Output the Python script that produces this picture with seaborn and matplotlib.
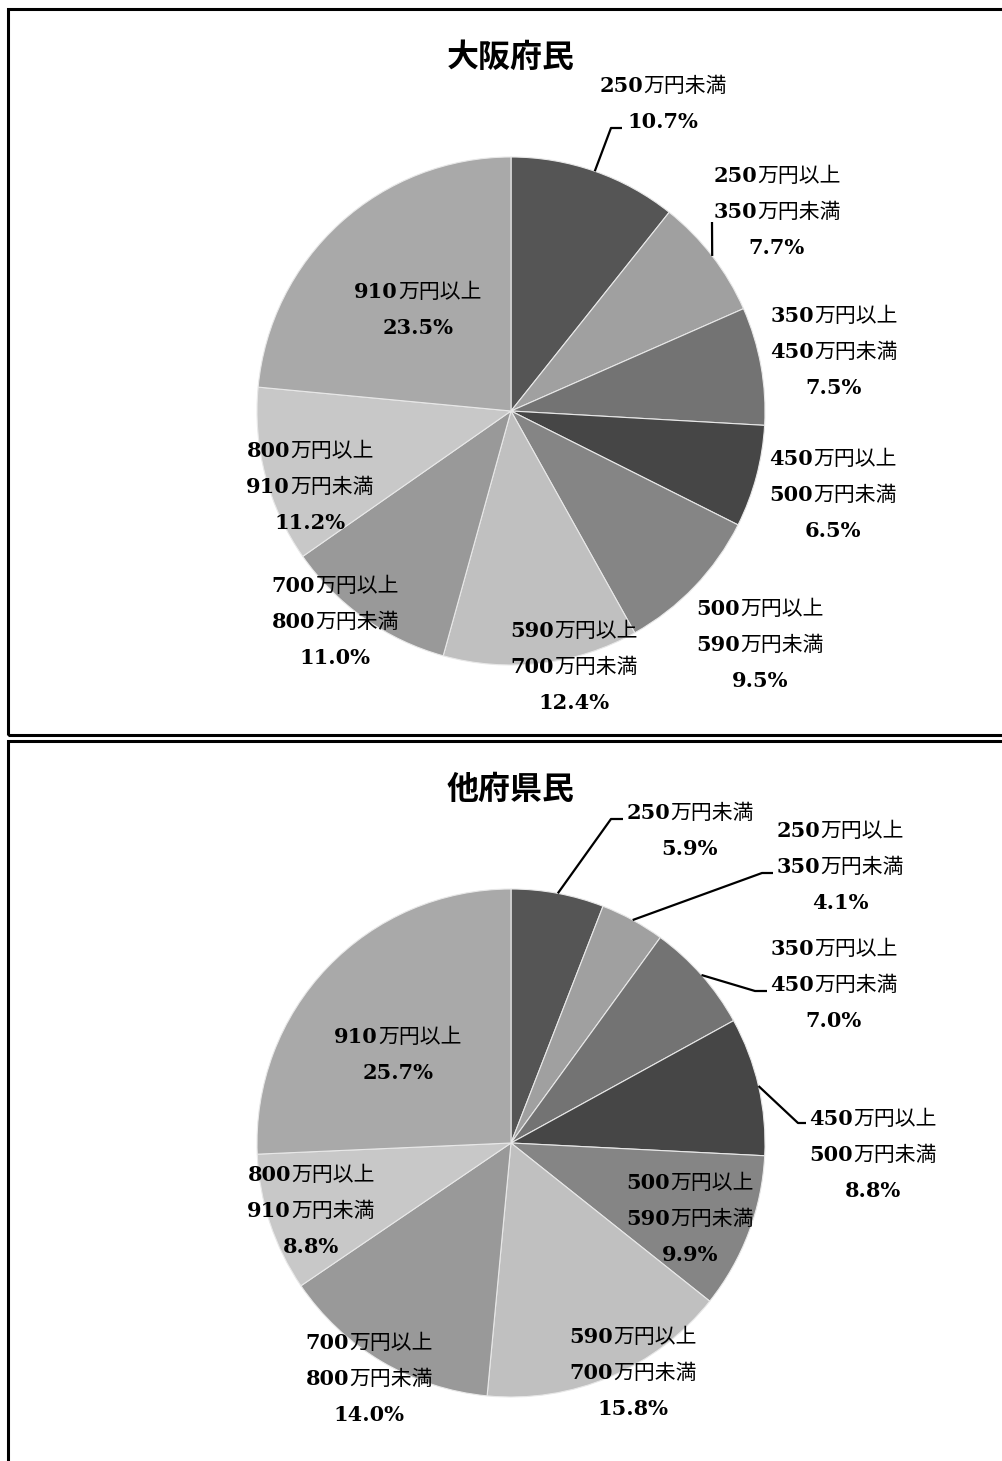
import re
import matplotlib
matplotlib.use("Agg")
import matplotlib.pyplot as plt
from matplotlib.patches import Rectangle
import seaborn as sns
import numpy as np

# ---------------- data ----------------
categories = [
    "250万円未満",
    "250万円以上\n350万円未満",
    "350万円以上\n450万円未満",
    "450万円以上\n500万円未満",
    "500万円以上\n590万円未満",
    "590万円以上\n700万円未満",
    "700万円以上\n800万円未満",
    "800万円以上\n910万円未満",
    "910万円以上",
]
osaka_values = [10.7, 7.7, 7.5, 6.5, 9.5, 12.4, 11.0, 11.2, 23.5]
other_values = [5.9, 4.1, 7.0, 8.8, 9.9, 15.8, 14.0, 8.8, 25.7]
titles = ["大阪府民", "他府県民"]

# ---------------- style ----------------
slice_colors = ["#555555", "#a0a0a0", "#737373", "#464646", "#858585",
                "#c0c0c0", "#999999", "#c8c8c8", "#a9a9a9"]

W, H = 1002, 1461
sns.set_theme(style="white")
plt.rcParams["font.family"] = ["DejaVu Sans", "Noto Sans CJK JP"]

# layout (pixel positions, y measured from top)
pie_centers = [(511, 411), (511, 1143)]
pie_radius = 254
title_pos = [(511, 58), (511, 790)]
boxes = [(8, 9, 1100, 726), (8, 741, 1100, 760)]
label_pos = [
    [(663, 85), (777, 175), (834, 315), (833, 458), (760, 608),
     (574, 630), (335, 585), (310, 450), (418, 291)],
    [(690, 812), (840, 830), (834, 948), (873, 1118), (690, 1182),
     (633, 1336), (369, 1342), (311, 1174), (398, 1036)],
]
leaders = [
    {0: [(611, 128), (622, 128)], 1: [(712, 222)]},
    {0: [(611, 819), (623, 819)], 1: [(762, 873), (773, 873)],
     2: [(755, 991), (767, 991)], 3: [(798, 1123), (806, 1123)]},
]
line_step = 36
fs_label = 15
fs_title = 23

fig = plt.figure(figsize=(W / 100, H / 100), dpi=100)
ax = fig.add_axes([0, 0, 1, 1])


def fy(py):
    return H - py


renderer = fig.canvas.get_renderer()


def mixed_line(x_center, y_center, s):
    m = re.match(r"([0-9.%]*)(.*)", s)
    head, tail = m.group(1), m.group(2)
    yb = fy(y_center + 7)
    parts = []
    if head:
        parts.append(ax.text(0, yb, head, fontsize=fs_label, fontweight="bold",
                             family=["DejaVu Serif"], va="baseline", ha="left",
                             color="black"))
    if tail:
        parts.append(ax.text(0, yb, tail, fontsize=fs_label, fontweight="normal",
                             family=["Noto Sans CJK JP", "DejaVu Sans"],
                             va="baseline", ha="left", color="black"))
    widths = [p.get_window_extent(renderer).width for p in parts]
    x = x_center - sum(widths) / 2
    for p, w in zip(parts, widths):
        p.set_x(x)
        x += w


for k, values in enumerate([osaka_values, other_values]):
    cx, cy = pie_centers[k]
    wedges, _ = ax.pie(values, colors=slice_colors, startangle=90,
                       counterclock=False, radius=pie_radius,
                       center=(cx, fy(cy)),
                       wedgeprops=dict(edgecolor="#e8e8e8", linewidth=0.8))
    ax.text(title_pos[k][0], fy(title_pos[k][1]), titles[k], fontsize=fs_title,
            fontweight="bold", family=["Noto Sans CJK JP", "DejaVu Sans"],
            ha="center", va="center", color="black")
    for i, (cat, v) in enumerate(zip(categories, values)):
        lines = cat.split("\n") + [f"{v:.1f}%"]
        lx, ly = label_pos[k][i]
        for j, s in enumerate(lines):
            mixed_line(lx, ly + j * line_step, s)
        if i in leaders[k]:
            w = wedges[i]
            mid = np.deg2rad((w.theta1 + w.theta2) / 2)
            sx = cx + pie_radius * np.cos(mid)
            sy = fy(cy) + pie_radius * np.sin(mid)
            pts = [(sx, sy)] + [(px, fy(py)) for px, py in leaders[k][i]]
            xs, ys = zip(*pts)
            ax.plot(xs, ys, color="black", linewidth=1.6, solid_capstyle="butt")

for bx, by, bw, bh in boxes:
    ax.add_patch(Rectangle((bx, fy(by + bh)), bw, bh, fill=False,
                           edgecolor="black", linewidth=2.2, clip_on=False))

ax.set_xlim(0, W)
ax.set_ylim(0, H)
ax.set_aspect("auto")
ax.axis("off")

fig.savefig("out.png", dpi=100, facecolor="white")
